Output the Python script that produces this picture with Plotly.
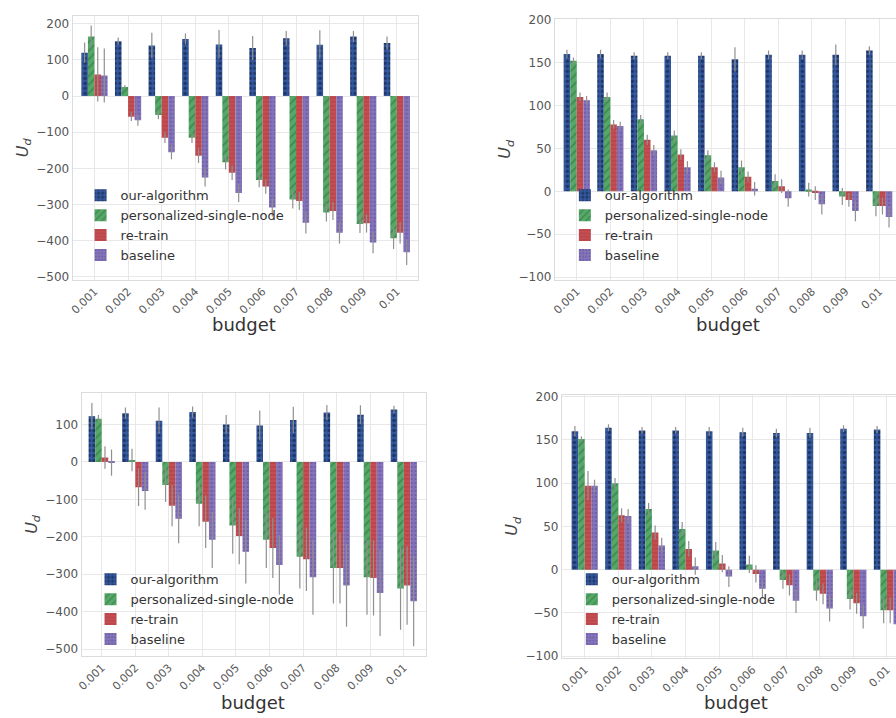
import plotly.graph_objects as go

# x categories (privacy budget) and method names
budgets = ["0.001", "0.002", "0.003", "0.004", "0.005",
           "0.006", "0.007", "0.008", "0.009", "0.01"]
methods = ["our-algorithm", "personalized-single-node", "re-train", "baseline"]

# panel (a): top-left
a_ours = [120, 152, 140, 158, 143, 133, 160, 142, 165, 147]
a_psn = [165, 25, -52, -115, -183, -232, -286, -322, -354, -393]
a_retrain = [60, -57, -115, -165, -212, -250, -290, -318, -352, -378]
a_base = [57, -67, -155, -225, -268, -308, -350, -378, -405, -432]
a_ours_err = [28, 10, 35, 15, 40, 33, 20, 40, 15, 18]
a_psn_err = [30, 5, 12, 15, 20, 20, 25, 25, 25, 30]
a_retrain_err = [75, 12, 15, 20, 20, 20, 25, 25, 25, 30]
a_base_err = [75, 15, 20, 25, 25, 25, 30, 30, 30, 35]

# panel (b): top-right
b_ours = [160, 160, 158, 158, 158, 154, 159, 159, 159, 164]
b_psn = [152, 110, 84, 65, 42, 28, 12, 2, -6, -17]
b_retrain = [110, 78, 60, 43, 28, 17, 6, -2, -10, -17]
b_base = [106, 76, 48, 28, 16, 3, -8, -15, -23, -30]
b_ours_err = [5, 5, 4, 4, 4, 14, 5, 5, 12, 5]
b_psn_err = [4, 5, 5, 6, 6, 8, 8, 8, 10, 12]
b_retrain_err = [5, 5, 6, 6, 6, 6, 8, 8, 8, 10]
b_base_err = [5, 5, 6, 7, 8, 8, 10, 12, 12, 12]

# panel (c): bottom-left
c_ours = [122, 130, 110, 133, 100, 97, 112, 132, 126, 140]
c_psn = [115, 5, -62, -112, -170, -208, -253, -283, -308, -338]
c_retrain = [12, -68, -117, -160, -198, -230, -260, -283, -310, -330]
c_base = [-2, -78, -152, -208, -240, -275, -308, -330, -350, -372]
c_ours_err = [35, 15, 35, 15, 25, 40, 35, 20, 25, 10]
c_psn_err = [10, 30, 45, 60, 75, 75, 85, 95, 100, 110]
c_retrain_err = [30, 50, 55, 70, 75, 80, 85, 95, 100, 105]
c_base_err = [35, 50, 65, 75, 85, 80, 100, 110, 115, 120]

# panel (d): bottom-right
d_ours = [160, 164, 161, 161, 160, 159, 158, 158, 163, 162]
d_psn = [151, 100, 70, 47, 22, 6, -12, -24, -34, -47]
d_retrain = [97, 63, 43, 24, 7, -5, -18, -28, -39, -47]
d_base = [97, 62, 28, 4, -8, -22, -36, -45, -54, -63]
d_ours_err = [6, 4, 4, 4, 5, 5, 5, 6, 4, 4]
d_psn_err = [3, 6, 7, 8, 10, 10, 10, 12, 12, 15]
d_retrain_err = [17, 8, 8, 9, 10, 10, 12, 12, 12, 15]
d_base_err = [7, 8, 9, 10, 12, 10, 14, 15, 14, 15]

panels = [
    ((a_ours, a_psn, a_retrain, a_base), (a_ours_err, a_psn_err, a_retrain_err, a_base_err)),
    ((b_ours, b_psn, b_retrain, b_base), (b_ours_err, b_psn_err, b_retrain_err, b_base_err)),
    ((c_ours, c_psn, c_retrain, c_base), (c_ours_err, c_psn_err, c_retrain_err, c_base_err)),
    ((d_ours, d_psn, d_retrain, d_base), (d_ours_err, d_psn_err, d_retrain_err, d_base_err)),
]

# fill style per method: (background colour, hatch colour, hatch shape, size, solidity)
styles = [
    ("#34589e", "#0a142e", ".", 5, 0.4),
    ("#55a868", "#2a6a3a", "/", 6, 0.3),
    ("#c44e52", "#9c3236", "-", 4, 0.25),
    ("#8474b8", "#5b4a9c", ".", 4, 0.35),
]

W, H = 896, 718


def px_x(a, b):
    return [a / W, b / W]


def px_y(top, bottom):
    return [(H - bottom) / H, (H - top) / H]


# subplot geometry in pixels, axis ranges, legend corner and x-label centre
geom = [
    dict(x=px_x(68, 415), y=px_y(10, 278), yr=[-508, 222], xr=[-0.65, 9.62],
         dtick=100, full=True, leg=(76, 177), lab=(240, 323)),
    dict(x=[553 / W, 1.0], y=px_y(13, 278), yr=[-103, 201], xr=[-0.65, 9.5],
         dtick=50, full=False, leg=(563, 177), lab=(727, 323)),
    dict(x=px_x(77, 423), y=px_y(393, 660), yr=[-518, 184], xr=[-0.6, 9.65],
         dtick=100, full=True, leg=(86, 567), lab=(249, 707)),
    dict(x=[560 / W, 1.0], y=px_y(395, 662), yr=[-102, 202], xr=[-0.68, 9.27],
         dtick=50, full=False, leg=(570, 567), lab=(735, 707)),
]

FONT = "DejaVu Sans"
GRID = "#e8e8e8"
EDGE = "#dcdcdc"

fig = go.Figure()
layout = {}
labels = []

for p, ((vals, errs), g) in enumerate(zip(panels, geom)):
    k = "" if p == 0 else str(p + 1)
    leg = "legend" if p == 0 else f"legend{p + 1}"
    for m, name in enumerate(methods):
        bg, fg, shape, size, sol = styles[m]
        fig.add_trace(go.Bar(
            x=budgets, y=vals[m], name=name,
            xaxis="x" + k, yaxis="y" + k, legend=leg,
            offsetgroup=str(m), showlegend=True,
            marker=dict(color=bg, line=dict(width=0),
                        pattern=dict(shape=shape, fgcolor=fg, bgcolor=bg,
                                     size=size, solidity=sol)),
            error_y=dict(type="data", array=errs[m], color="#909090",
                         thickness=1.2, width=0),
        ))
    layout["xaxis" + k] = dict(
        domain=g["x"], anchor="y" + k, range=g["xr"], type="category",
        tickangle=-45, tickfont=dict(size=11, color="#5a5a5a", family=FONT),
        showgrid=True, gridcolor=GRID, ticks="", showline=True, linecolor=EDGE,
        mirror=True,
    )
    layout["yaxis" + k] = dict(
        domain=g["y"], anchor="x" + k, range=g["yr"], dtick=g["dtick"],
        tickfont=dict(size=12, color="#555555", family=FONT),
        showgrid=True, gridcolor=GRID, zeroline=False, ticks="",
        showline=True, linecolor=EDGE, mirror=g["full"],
        title=dict(text="<i>U</i><sub><i>d</i></sub>",
                   font=dict(size=16, color="#444444", family=FONT), standoff=3),
    )
    lx, ly = g["leg"]
    layout[leg] = dict(
        x=lx / W, y=(H - ly) / H, xanchor="left", yanchor="top",
        bgcolor="rgba(0,0,0,0)", font=dict(size=13, color="#333333", family=FONT),
        itemwidth=30, tracegroupgap=0,
    )
    # x-axis label placed under the rotated tick labels
    bx, by = g["lab"]
    labels.append(dict(
        text="budget", x=bx / W, y=(H - by) / H, xref="paper", yref="paper",
        xanchor="center", yanchor="middle", showarrow=False,
        font=dict(size=18, color="#333333", family=FONT),
    ))

fig.update_layout(
    width=W, height=H, margin=dict(l=0, r=0, t=0, b=0),
    paper_bgcolor="white", plot_bgcolor="white",
    barmode="group", bargap=0.22, bargroupgap=0,
    font=dict(family=FONT), annotations=labels, **layout,
)

fig.write_html("out.html")
